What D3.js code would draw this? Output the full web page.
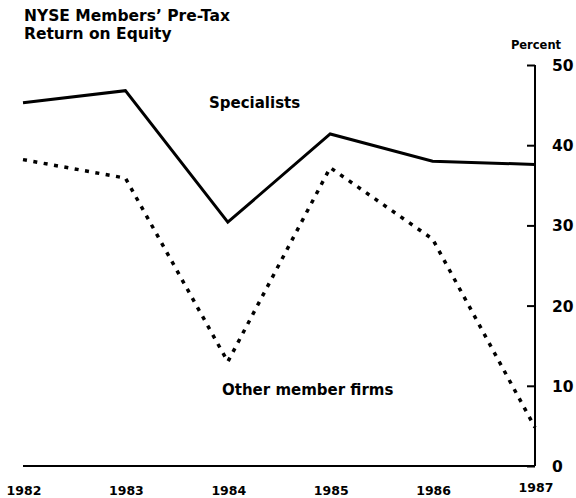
<!DOCTYPE html>
<html>
<head>
<meta charset="utf-8">
<script src="https://cdn.jsdelivr.net/npm/d3@7"></script>
<style>
  body { margin: 0; background: #fff; }
  svg { display: block; font-family: "DejaVu Sans", "Liberation Sans", sans-serif; font-weight: bold; }
  .title { font-size: 15.5px; }
  .series-label { font-size: 15px; }
  .y-label { font-size: 15.5px; }
  .x-label { font-size: 12.5px; }
</style>
</head>
<body>
<svg id="chart"></svg>
<script>
const YEARS       = [1982, 1983, 1984, 1985, 1986, 1987];
const SPECIALISTS = [45.3, 46.8, 30.4, 41.4, 38.0, 37.6];
const OTHER_FIRMS = [38.2, 35.9, 13.0, 37.2, 28.3, 4.8];
const Y_TICKS     = [0, 10, 20, 30, 40, 50];

const W = 576, H = 498;
const PLOT = { left: 23, right: 535, top: 65, bottom: 466 };

const svg = d3.select("#chart").attr("width", W).attr("height", H);

const x = d3.scaleLinear().domain([1982, 1987]).range([PLOT.left, PLOT.right]);
const y = d3.scaleLinear().domain([0, 50]).range([PLOT.bottom, PLOT.top]);

// title
svg.append("text").attr("class", "title").attr("x", 24).attr("y", 20.5)
  .text("NYSE Members\u2019 Pre-Tax");
svg.append("text").attr("class", "title").attr("x", 24).attr("y", 38.5)
  .text("Return on Equity");

// right axis
const yAxis = svg.append("g")
  .attr("transform", `translate(${PLOT.right},0)`)
  .call(d3.axisLeft(y).tickValues(Y_TICKS).tickSize(8).tickFormat(""));
yAxis.select(".domain").attr("stroke", "#000").attr("stroke-width", 2)
  .attr("d", `M0,${PLOT.top}V${PLOT.bottom}`);
yAxis.selectAll(".tick line").attr("stroke", "#000").attr("stroke-width", 2);

svg.selectAll(".y-label")
  .data(Y_TICKS)
  .join("text")
    .attr("class", "y-label")
    .attr("x", 552)
    .attr("y", d => y(d) + 6)
    .text(d => d);

svg.append("text").attr("x", 536).attr("y", 49)
  .attr("text-anchor", "middle")
  .attr("font-size", 11.5)
  .text("Percent");

// bottom baseline
const xAxis = svg.append("g")
  .attr("transform", `translate(0,${PLOT.bottom})`)
  .call(d3.axisBottom(x).tickValues(YEARS).tickSize(0).tickFormat(""));
xAxis.select(".domain").attr("stroke", "#000").attr("stroke-width", 2)
  .attr("d", `M${PLOT.left},0H${PLOT.right}`);

svg.selectAll(".x-label")
  .data(YEARS)
  .join("text")
    .attr("class", "x-label")
    .attr("x", d => x(d) + 1)
    .attr("y", d => d === 1987 ? 492 : 495)
    .attr("text-anchor", "middle")
    .text(d => d);

// lines
const line = d3.line().x((d, i) => x(YEARS[i])).y(d => y(d));

svg.append("path")
  .datum(SPECIALISTS)
  .attr("fill", "none")
  .attr("stroke", "#000")
  .attr("stroke-width", 3)
  .attr("stroke-linejoin", "miter")
  .attr("d", line);

svg.append("path")
  .datum(OTHER_FIRMS)
  .attr("fill", "none")
  .attr("stroke", "#000")
  .attr("stroke-width", 3.5)
  .attr("stroke-dasharray", "4,6.5")
  .attr("d", line);

svg.append("text").attr("class", "series-label")
  .attr("x", 209).attr("y", 108).text("Specialists");
svg.append("text").attr("class", "series-label")
  .attr("x", 222).attr("y", 395).text("Other member firms");
</script>
</body>
</html>
